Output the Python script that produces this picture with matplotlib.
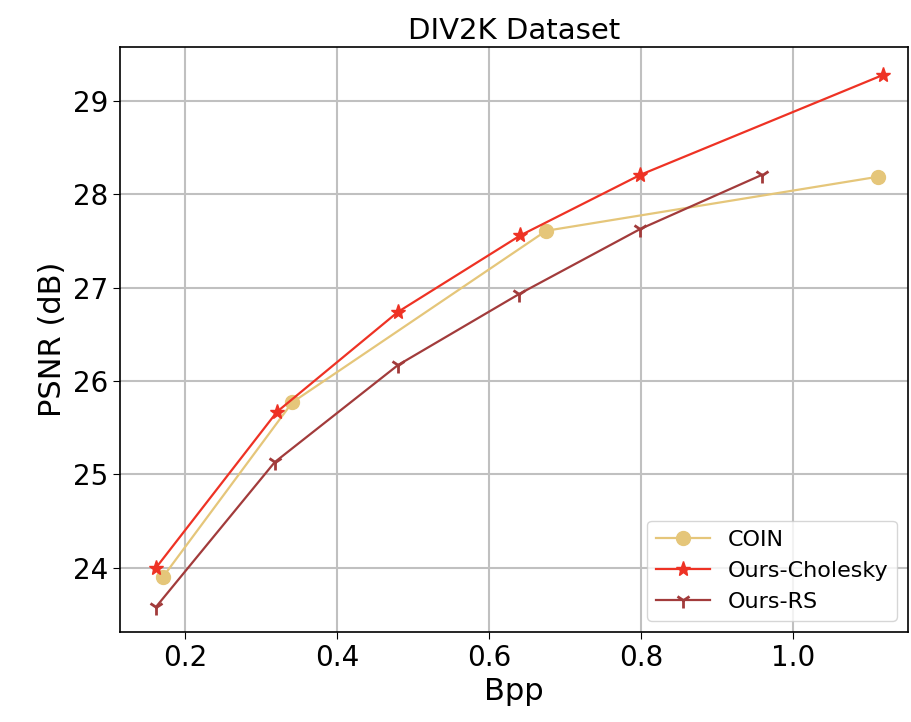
import numpy as np
import matplotlib
matplotlib.use('Agg')
import matplotlib.pyplot as plt

# rate-distortion points on DIV2K
coin_bpp = [0.171, 0.341, 0.675, 1.112]
coin_psnr = [23.90, 25.77, 27.61, 28.19]
chol_bpp = [0.162, 0.321, 0.480, 0.641, 0.799, 1.118]
chol_psnr = [24.00, 25.67, 26.74, 27.56, 28.21, 29.28]
rs_bpp = [0.162, 0.318, 0.480, 0.639, 0.799, 0.959]
rs_psnr = [23.58, 25.13, 26.17, 26.93, 27.63, 28.21]

fig = plt.figure(figsize=(9.12, 7.22), dpi=100)
ax = fig.add_axes([0.1316, 0.1247, 0.8640, 0.8102])

ax.plot(coin_bpp, coin_psnr, color='#E5C67A', marker='o', markersize=10, linewidth=1.6, label='COIN')
ax.plot(chol_bpp, chol_psnr, color='#EE3224', marker='*', markersize=11, linewidth=1.6, label='Ours-Cholesky')
ax.plot(rs_bpp, rs_psnr, color='#A23B3B', marker='1', markersize=11, markeredgewidth=2, linewidth=1.6, label='Ours-RS')

ax.set_xlim(0.1145, 1.151)
ax.set_ylim(23.31, 29.58)
ax.set_xticks([0.2, 0.4, 0.6, 0.8, 1.0])
ax.set_yticks([24, 25, 26, 27, 28, 29])
ax.grid(True, color='#C0C0C0', linewidth=1.5)
ax.tick_params(labelsize=20, length=5)
for s in ax.spines.values():
    s.set_linewidth(1.2)

ax.set_xlabel('Bpp', fontsize=22)
ax.set_ylabel('PSNR (dB)', fontsize=22)
ax.set_title('DIV2K Dataset', fontsize=21)
ax.legend(loc='lower right', fontsize=16, handlelength=2.4)

fig.savefig('out.png', dpi=100)
